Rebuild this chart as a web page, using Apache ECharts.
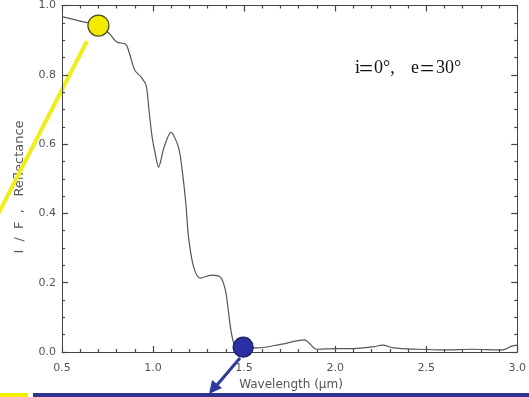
<!DOCTYPE html>
<html>
<head>
<meta charset="utf-8">
<script src="https://cdn.jsdelivr.net/npm/echarts@6/dist/echarts.min.js"></script>
<style>
  html, body { margin: 0; padding: 0; background: #fff; }
  #chart { width: 529px; height: 397px; }
</style>
</head>
<body>
<div id="chart"></div>
<script>
// 光谱数据（波长 μm / 反射率）
var wavelength = [0.50, 0.60, 0.70, 0.76, 0.80, 0.85, 0.87, 0.90, 0.935, 0.962, 0.978, 0.995, 1.016, 1.03, 1.06, 1.098, 1.14, 1.16, 1.18, 1.195, 1.223, 1.26, 1.32, 1.37, 1.397, 1.413, 1.43, 1.45, 1.50, 1.58, 1.70, 1.83, 1.90, 2.00, 2.10, 2.21, 2.26, 2.32, 2.45, 2.60, 2.75, 2.92, 2.97, 3.00];
var reflectance = [0.968, 0.955, 0.942, 0.919, 0.895, 0.888, 0.862, 0.813, 0.793, 0.769, 0.697, 0.62, 0.562, 0.533, 0.59, 0.634, 0.59, 0.524, 0.429, 0.331, 0.245, 0.213, 0.222, 0.216, 0.179, 0.121, 0.055, 0.02, 0.012, 0.012, 0.022, 0.035, 0.008, 0.01, 0.01, 0.015, 0.02, 0.012, 0.008, 0.006, 0.008, 0.006, 0.017, 0.02];

// 标记点
var yellowPoint = [0.70, 0.942];
var bluePoint = [1.495, 0.014];

var xTicks = [0.5, 1.0, 1.5, 2.0, 2.5, 3.0];
var yTicks = [0.0, 0.2, 0.4, 0.6, 0.8, 1.0];

var curve = [];
for (var i = 0; i < wavelength.length; i++) {
  curve.push([wavelength[i], reflectance[i]]);
}

var myChart = echarts.init(document.getElementById('chart'));

var axisColor = '#444';
var labelFont = 'DejaVu Sans';

function fmt(v) { return v.toFixed(1); }

function xAxisCfg(pos, showLabel) {
  var line = { show: true, lineStyle: { color: axisColor } };
  if (pos === 'top') line.onZero = false;
  return {
    type: 'value',
    position: pos,
    min: xTicks[0],
    max: xTicks[xTicks.length - 1],
    interval: 0.5,
    axisLine: line,
    axisTick: { show: true, inside: true, length: 6, lineStyle: { color: axisColor, width: 1.2 } },
    minorTick: { show: true, splitNumber: 5, length: 3, lineStyle: { color: axisColor, width: 1.2 } },
    splitLine: { show: false },
    axisLabel: { show: showLabel, color: '#555', fontFamily: labelFont, fontSize: 11, margin: 11, formatter: fmt }
  };
}

function yAxisCfg(pos, showLabel) {
  return {
    type: 'value',
    position: pos,
    min: yTicks[0],
    max: yTicks[yTicks.length - 1],
    interval: 0.2,
    axisLine: { show: true, lineStyle: { color: axisColor } },
    axisTick: { show: true, inside: true, length: 6, lineStyle: { color: axisColor, width: 1.2 } },
    minorTick: { show: true, splitNumber: 4, length: 3, lineStyle: { color: axisColor, width: 1.2 } },
    splitLine: { show: false },
    axisLabel: { show: showLabel, color: '#555', fontFamily: labelFont, fontSize: 11, margin: 6, formatter: fmt }
  };
}

function markerSeries(name, point, size, fill, border) {
  return {
    name: name,
    type: 'line',
    data: [point],
    showSymbol: true,
    symbol: 'circle',
    symbolSize: size,
    lineStyle: { width: 0 },
    itemStyle: { color: fill, borderColor: border, borderWidth: 1.2, opacity: 1 }
  };
}

myChart.setOption({
  animation: false,
  grid: { left: 62, right: 8, top: 5, bottom: 45 },
  xAxis: [xAxisCfg('bottom', true), xAxisCfg('top', false)],
  yAxis: [yAxisCfg('left', true), yAxisCfg('right', false)],
  series: [
    {
      name: 'spectrum',
      type: 'line',
      data: curve,
      smooth: 0.3,
      showSymbol: false,
      lineStyle: { color: '#555', width: 1.2 }
    },
    markerSeries('yellow', yellowPoint, 21, '#f2ea00', '#4a4a20'),
    markerSeries('blue', bluePoint, 20, '#2b2fa6', '#1a1a60')
  ],
  graphic: [
    // 横轴标题
    {
      type: 'text',
      x: 291,
      y: 385,
      style: { text: 'Wavelength (\u03bcm)', font: '12px "DejaVu Sans"', fill: '#555', align: 'center', verticalAlign: 'middle' }
    },
    // 纵轴标题
    {
      type: 'text',
      x: 20,
      y: 187,
      rotation: Math.PI / 2,
      style: { text: 'I  /  F  ,   Reflectance', font: '13px "DejaVu Sans"', fill: '#555', align: 'center', verticalAlign: 'middle' }
    },
    // 角度注释 i=0°, e=30°
    { type: 'text', x: 355, y: 68, style: { text: 'i', font: '18px "Liberation Serif"', fill: '#111', verticalAlign: 'middle' } },
    { type: 'text', x: 359, y: 70, style: { text: '=', font: '25px "Liberation Serif"', fill: '#111', verticalAlign: 'middle' } },
    { type: 'text', x: 374, y: 68, style: { text: '0\u00b0,', font: '18px "Liberation Serif"', fill: '#111', verticalAlign: 'middle' } },
    { type: 'text', x: 411, y: 68, style: { text: 'e', font: '18px "Liberation Serif"', fill: '#111', verticalAlign: 'middle' } },
    { type: 'text', x: 420, y: 70, style: { text: '=', font: '25px "Liberation Serif"', fill: '#111', verticalAlign: 'middle' } },
    { type: 'text', x: 436, y: 68, style: { text: '30\u00b0', font: '18px "Liberation Serif"', fill: '#111', verticalAlign: 'middle' } },
    // 黄色指示线
    { type: 'line', shape: { x1: 87, y1: 41, x2: -6, y2: 222 }, style: { stroke: '#f0ee1a', lineWidth: 4 } },
    // 蓝色箭头
    { type: 'line', shape: { x1: 240, y1: 358, x2: 217, y2: 385 }, style: { stroke: '#2d3a9e', lineWidth: 3 } },
    { type: 'polygon', shape: { points: [[209, 394], [212, 380], [222, 388]] }, style: { fill: '#2d3a9e' } },
    // 底部色条
    { type: 'rect', shape: { x: 33, y: 393, width: 496, height: 4 }, style: { fill: '#2e338f' } },
    { type: 'rect', shape: { x: 0, y: 393, width: 28, height: 4 }, style: { fill: '#f2ee00' } }
  ]
});
</script>
</body>
</html>
